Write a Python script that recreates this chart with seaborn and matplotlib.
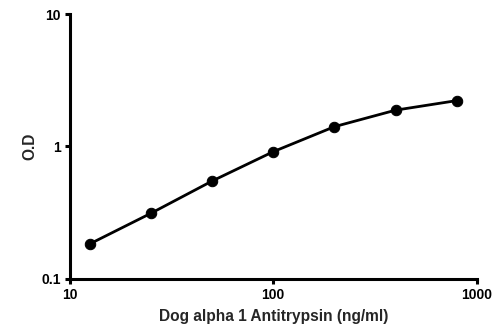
import matplotlib
matplotlib.use("Agg")
import matplotlib.pyplot as plt
import seaborn as sns
import pandas as pd
from matplotlib.ticker import FixedLocator, FixedFormatter, NullLocator

# Standard curve: concentration (ng/ml) vs optical density
concentration = [12.5, 25, 50, 100, 200, 400, 800]
od = [0.183, 0.312, 0.547, 0.912, 1.41, 1.88, 2.22]

x_ticks = [10, 100, 1000]
x_tick_labels = ["10", "100", "1000"]
y_ticks = [0.1, 1, 10]
y_tick_labels = ["0.1", "1", "10"]

sns.set_theme(style="ticks")
plt.rcParams["font.family"] = ["Liberation Sans", "DejaVu Sans"]
plt.rcParams["font.weight"] = "bold"

df = pd.DataFrame({"conc": concentration, "od": od})

fig = plt.figure(figsize=(5.0, 3.29), dpi=100)
ax = fig.add_axes([0.14, 0.153, 0.813, 0.804])

sns.lineplot(data=df, x="conc", y="od", ax=ax, color="black", linewidth=2.0,
             marker="o", markersize=7.5, markeredgecolor="black", markerfacecolor="black")

ax.set_xscale("log")
ax.set_yscale("log")
ax.set_xlim(10, 1000)
ax.set_ylim(0.1, 10)

ax.xaxis.set_major_locator(FixedLocator(x_ticks))
ax.xaxis.set_major_formatter(FixedFormatter(x_tick_labels))
ax.xaxis.set_minor_locator(NullLocator())
ax.yaxis.set_major_locator(FixedLocator(y_ticks))
ax.yaxis.set_major_formatter(FixedFormatter(y_tick_labels))
ax.yaxis.set_minor_locator(NullLocator())

for side in ["top", "right"]:
    ax.spines[side].set_visible(False)
for side in ["left", "bottom"]:
    ax.spines[side].set_linewidth(2.2)
    ax.spines[side].set_color("black")

ax.tick_params(axis="both", which="major", length=3.5, width=2.2, color="black",
               labelsize=10, labelcolor="black", pad=3)
for lbl in ax.get_xticklabels() + ax.get_yticklabels():
    lbl.set_fontweight("bold")

ax.set_xlabel("Dog alpha 1 Antitrypsin (ng/ml)", fontsize=11.2, fontweight="bold", labelpad=5)
ax.set_ylabel("O.D", fontsize=11.2, fontweight="bold", labelpad=3)

fig.savefig("out.png", dpi=100, facecolor="white")
